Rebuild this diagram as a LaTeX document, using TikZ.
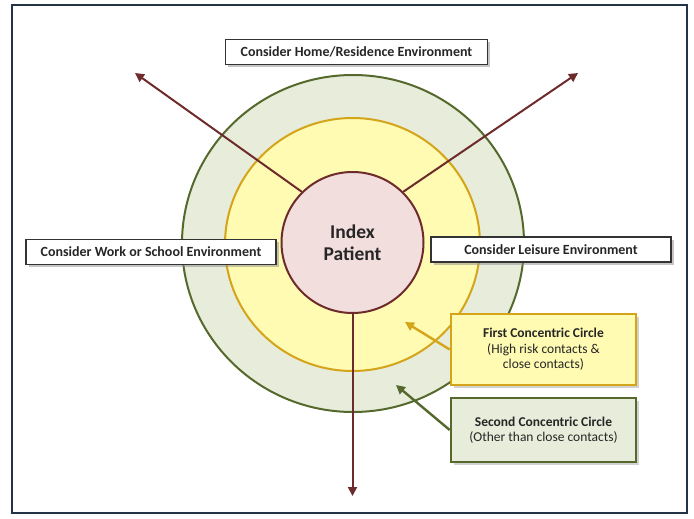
\documentclass[tikz,border=0pt]{standalone}
\usepackage{fontspec}
\setmainfont{Carlito}
\usetikzlibrary{shapes.geometric,shadows,arrows.meta}

\definecolor{framecol}{HTML}{243447}
\definecolor{maroon}{HTML}{6E2B2B}
\definecolor{pinkfill}{HTML}{F2DEDD}
\definecolor{yellowfill}{HTML}{FFFBB2}
\definecolor{yellowline}{HTML}{D4A41A}
\definecolor{sagefill}{HTML}{E8ECDA}
\definecolor{oliveline}{HTML}{55692C}
\definecolor{inktext}{HTML}{262626}

\tikzset{
  envbox/.style={draw=black!80,fill=white,line width=1.2pt,text=inktext,
    font=\bfseries\fontsize{14}{16}\selectfont,minimum height=25pt,inner sep=1pt,
    drop shadow={shadow xshift=2.5pt,shadow yshift=-2.5pt,fill=black!45}},
  ringbox/.style={line width=2.6pt,text=inktext,align=center,inner sep=1pt,
    font=\fontsize{13.5}{15.5}\selectfont,
    drop shadow={shadow xshift=2.5pt,shadow yshift=-2.5pt,fill=black!35}},
  spoke/.style={-{Triangle[length=9pt,width=9pt]},line width=2pt,maroon},
}

\begin{document}
\begin{tikzpicture}[x=1pt,y=-1pt]
\useasboundingbox (0,0) rectangle (694,519);
\draw[framecol,line width=2.6pt] (12,5) rectangle (687,513);
%
\node [ellipse,draw=oliveline,fill=sagefill,line width=2pt,minimum width=342pt,minimum height=337pt] at (353,243.5) (second) {};
\node [ellipse,draw=yellowline,fill=yellowfill,line width=2pt,minimum width=255pt,minimum height=253pt] at (352.5,244.5) (first) {};
%
\coordinate (home tip) at (135,73);
\coordinate (leisure tip) at (578,73);
\coordinate (work tip) at (352.5,496);
\coordinate (first tip) at (405,322);
\coordinate (second tip) at (396,385);
%
\node [ellipse,draw=maroon,fill=pinkfill,line width=2pt,minimum width=142pt,minimum height=141pt,text=inktext,align=center,font=\bfseries\fontsize{19.5}{22}\selectfont] at (352.5,242.5) (index) {Index\\Patient};
%
\path[spoke] (index.135) edge (home tip);
\path[spoke] (index.45) edge (leisure tip);
\path[spoke] (index.south) edge (work tip);
%
\node [envbox,minimum width=262pt] at (356.5,52) (home) {Consider Home/Residence Environment};
\node [envbox,minimum width=250pt] at (151,252) (work) {Consider Work or School Environment};
\node [envbox,minimum width=240pt] at (551,249.5) (leisure) {Consider Leisure Environment};
\node [ringbox,draw=yellowline,fill=yellowfill,minimum width=185pt,minimum height=71pt] at (543.5,349.5) (first box) {\textbf{First Concentric Circle}\\(High risk contacts \&\\close contacts)};
\node [ringbox,draw=oliveline,fill=sagefill,minimum width=185pt,minimum height=64pt] at (543.5,430) (second box) {\textbf{Second Concentric Circle}\\(Other than close contacts)};
%
\path[-{Triangle[length=9pt,width=9pt]},line width=2.4pt,yellowline] (first box.west) edge (first tip);
\path[-{Triangle[length=9pt,width=9pt]},line width=2.4pt,oliveline] (second box.west) edge (second tip);

\end{tikzpicture}
\end{document}
